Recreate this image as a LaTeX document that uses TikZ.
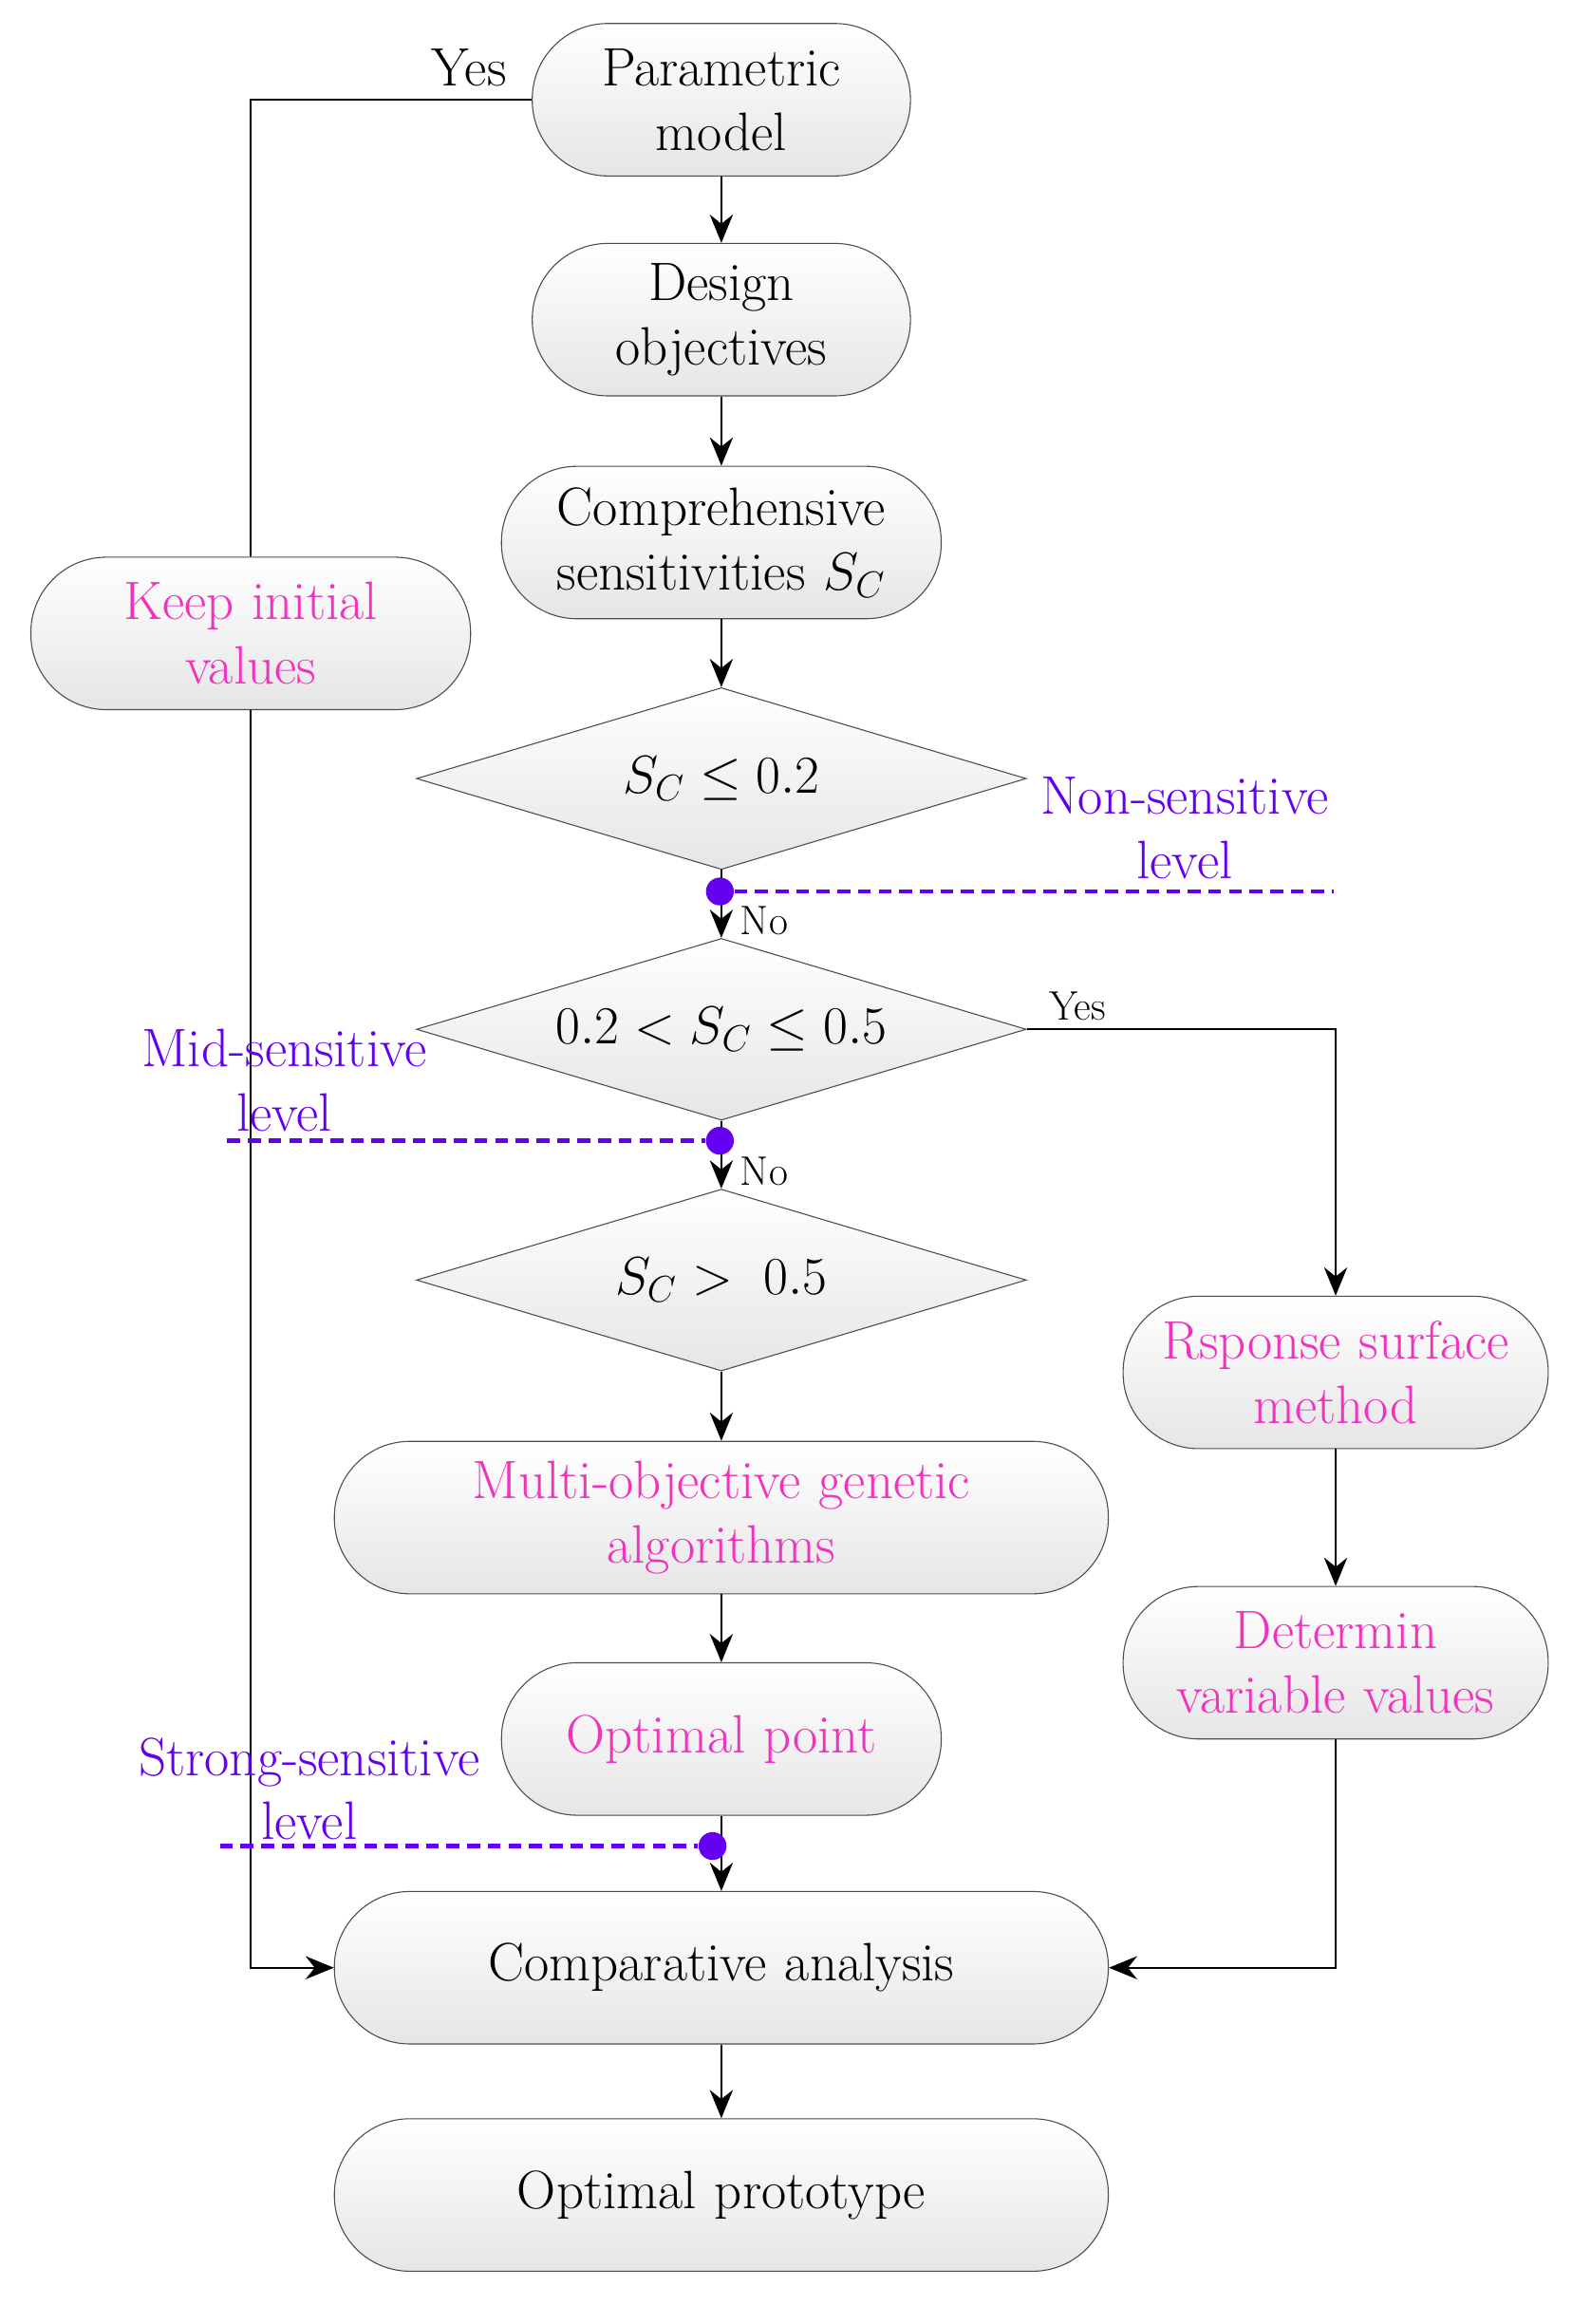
\documentclass[tikz,border=0pt]{standalone}
\usetikzlibrary{shapes.geometric,arrows.meta}
\definecolor{pk}{RGB}{240,50,190}
\definecolor{pu}{RGB}{100,0,240}
\begin{document}
\fontsize{21}{25}\selectfont
\begin{tikzpicture}[x=0.02cm,y=-0.02cm,
 box/.style={draw=black!70,rounded corners=1.03cm,top color=white,bottom color=black!10,align=center,inner sep=0,minimum height=2.08cm,text width=#1,minimum width=#1},
 dia/.style={draw=black!70,diamond,aspect=3.35,top color=white,bottom color=black!10,minimum width=8.32cm,minimum height=2.48cm,inner sep=0},
 arr/.style={-{Stealth[length=11pt,width=9pt]},thick},
 ln/.style={thick},
 pl/.style={pu,line width=1.8pt,dash pattern=on 5pt off 3pt},
 dot/.style={circle,fill=pu,inner sep=0,minimum size=0.38cm},
 pt/.style={text=pk},
 lab/.style={text=pu,align=center}]
\useasboundingbox (0,0) rectangle (1085,1585);
\node[box=5.16cm] (pm) at (492,68) {Parametric\\model};
\node[box=5.16cm] (do) at (492,218) {Design\\objectives};
\node[box=6cm] (cs) at (492,370) {Comprehensive\\sensitivities $S_C$};
\node[dia] (d1) at (492,531) {$S_C\leq0.2$};
\node[dia] (d2) at (492,702) {$0.2<S_C\leq0.5$};
\node[dia] (d3) at (492,873) {$S_C>\ 0.5$};
\node[box=10.56cm,pt] (mo) at (492,1035) {Multi-objective genetic\\algorithms};
\node[box=6cm,pt] (op) at (492,1186) {Optimal point};
\node[box=10.56cm] (ca) at (492,1342) {Comparative analysis};
\node[box=10.56cm] (opt) at (492,1497) {Optimal prototype};
\node[box=6cm,pt] (kiv) at (171,432) {Keep initial\\values};
\node[box=5.8cm,pt] (rsm) at (911,936) {Rsponse surface\\method};
\node[box=5.8cm,pt] (dvv) at (911,1134) {Determin\\variable values};
\draw[arr] (pm)--(do);
\draw[arr] (do)--(cs);
\draw[arr] (cs)--(d1);
\draw[arr] (d1)--(d2) node[pos=0.75,right,font=\fontsize{16}{18}\selectfont]{No};
\draw[arr] (d2)--(d3) node[pos=0.75,right,font=\fontsize{16}{18}\selectfont]{No};
\draw[arr] (d3)--(mo);
\draw[arr] (mo)--(op);
\draw[arr] (op)--(ca);
\draw[arr] (ca)--(opt);
\coordinate (c1) at (911,702);
\draw[arr] (d2.east)--(c1)--(rsm.north);
\node[font=\fontsize{16}{18}\selectfont] (y2) at (735,686) {Yes};
\draw[arr] (rsm)--(dvv);
\coordinate (c2) at (911,1342);
\draw[arr] (dvv.south)--(c2)--(ca.east);
\coordinate (c3) at (171,68);
\draw[ln] (pm.west)--(c3)--(kiv.north);
\node (y1) at (320,46) {Yes};
\coordinate (c4) at (171,1342);
\draw[arr] (kiv.south)--(c4)--(ca.west);
\coordinate (p1) at (910,608); \node[dot] (dt1) at (491,608) {};
\draw[pl] (dt1)--(p1);
\node[lab] (l1) at (808,565) {Non-sensitive\\level};
\coordinate (p2) at (155,778); \node[dot] (dt2) at (491,778) {};
\draw[pl] (p2)--(dt2);
\node[lab] (l2) at (194,737) {Mid-sensitive\\level};
\coordinate (p3) at (150,1259); \node[dot] (dt3) at (486,1259) {};
\draw[pl] (p3)--(dt3);
\node[lab] (l3) at (211,1220) {Strong-sensitive\\level};
\end{tikzpicture}
\end{document}
